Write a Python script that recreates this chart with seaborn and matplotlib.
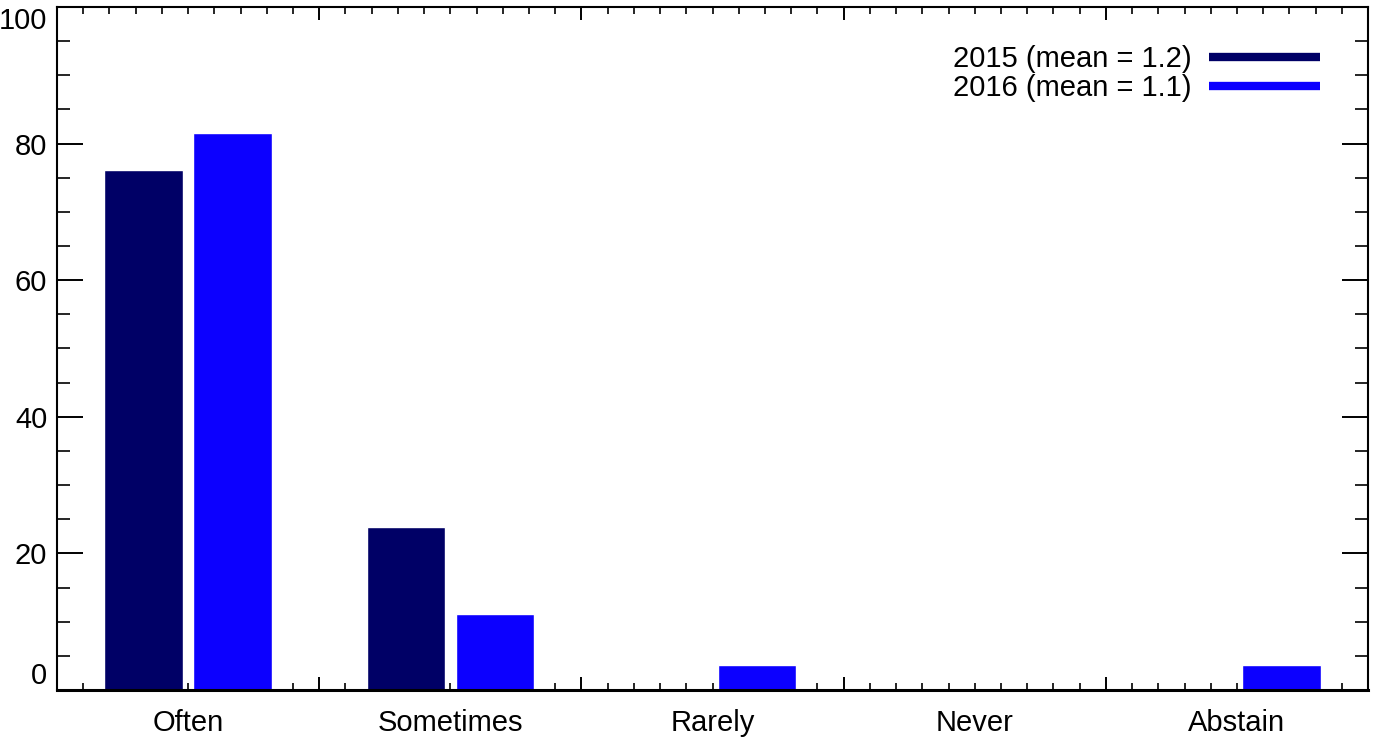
import numpy as np
import matplotlib
matplotlib.use('Agg')
import matplotlib.pyplot as plt
from matplotlib.lines import Line2D
from matplotlib.ticker import MultipleLocator
import pandas as pd
import seaborn as sns

categories = ['Often', 'Sometimes', 'Rarely', 'Never', 'Abstain']
years = ['2015', '2016']
means = [1.2, 1.1]
values_2015 = [76.2, 23.8, 0.0, 0.0, 0.0]
values_2016 = [81.5, 11.1, 3.7, 0.0, 3.7]
colors = ['#000066', '#0C00FF']

df = pd.DataFrame({
    'answer': categories * 2,
    'year': [years[0]] * 5 + [years[1]] * 5,
    'percent': values_2015 + values_2016,
})

sns.set_style('white')
plt.rcParams['font.family'] = ['Liberation Sans', 'DejaVu Sans']
plt.rcParams['text.color'] = 'black'
plt.rcParams['xtick.color'] = 'black'
plt.rcParams['ytick.color'] = 'black'

fig = plt.figure(figsize=(13.77, 7.44), dpi=100)
ax = fig.add_axes([0.0414, 0.0726, 0.9521, 0.918])

sns.barplot(data=df, x='answer', y='percent', hue='year', order=categories,
            palette=colors, width=0.68, gap=0.12, saturation=1,
            errorbar=None, legend=False, ax=ax)

ax.set_xlim(-0.5, len(categories) - 0.5)
ax.set_ylim(0, 100)
ax.set_xlabel('')
ax.set_ylabel('')

# x: long ticks on the category edges, short ones every 0.1
ax.set_xticks(np.arange(len(categories) + 1) - 0.5)
ax.xaxis.set_minor_locator(MultipleLocator(0.1))
ax.set_xticklabels([])
ax.set_yticks(range(0, 101, 20))
ax.yaxis.set_minor_locator(MultipleLocator(5))

ax.tick_params(axis='x', which='major', direction='in', length=9.4, width=1.4,
               top=True, bottom=True)
ax.tick_params(axis='x', which='minor', direction='in', length=5, width=1.2,
               top=True, bottom=True)
ax.tick_params(axis='y', which='major', direction='in', length=18.7, width=1.4,
               left=True, right=True, labelsize=21, pad=7, labelcolor='black')
ax.tick_params(axis='y', which='minor', direction='in', length=9.4, width=1.2,
               left=True, right=True)

# end labels sit inside the axis range, like the original
ylabels = ax.get_yticklabels()
ylabels[0].set_va('bottom')
ylabels[-1].set_va('top')

for side in ax.spines.values():
    side.set_visible(True)
    side.set_color('black')
    side.set_linewidth(1.5)
ax.spines['bottom'].set_linewidth(2.2)

# category names under the bars
sec = ax.secondary_xaxis('bottom')
sec.set_xticks(range(len(categories)))
sec.set_xticklabels(categories, fontsize=21, color='black')
sec.tick_params(length=0, pad=14)
sec.spines['bottom'].set_visible(False)

handles = [Line2D([0], [0], color=c, lw=6, solid_capstyle='butt') for c in colors]
labels = [f'{y} (mean = {m})' for y, m in zip(years, means)]
ax.legend(handles, labels, loc='upper right', bbox_to_anchor=(0.992, 1.0),
          fontsize=21, frameon=False, markerfirst=False, handlelength=3.8,
          handletextpad=0.6, labelspacing=0.05, borderaxespad=0.9)

fig.savefig('out.png', dpi=100)
